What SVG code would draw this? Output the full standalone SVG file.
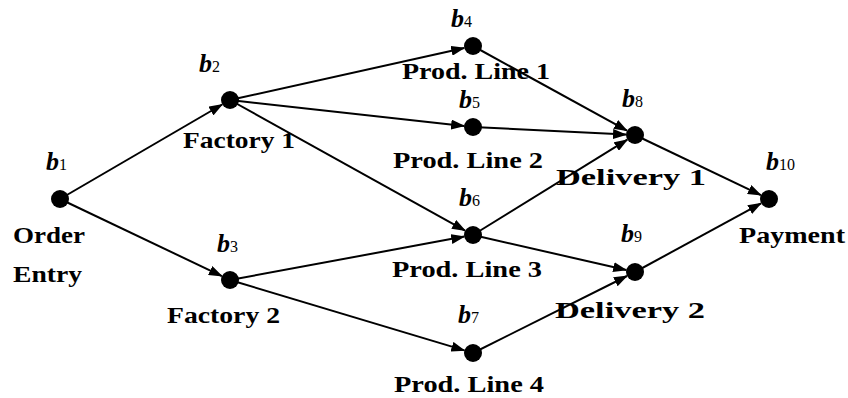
<svg xmlns="http://www.w3.org/2000/svg" width="848" height="398" viewBox="0 0 848 398">
<style>
.node circle{fill:#000}
.lbl{font-family:'Liberation Serif','Times New Roman',Times,serif;font-weight:700;font-size:24px;fill:#000}
.b{font-family:'Liberation Serif','Times New Roman',Times,serif;font-style:italic;font-weight:700;font-size:26px;fill:#000}
.b tspan{font-style:normal;font-weight:400;font-size:16px}
#edges line{stroke:#000;stroke-width:2;marker-end:url(#arr)}
</style>
<defs>
<marker id="arr" markerUnits="userSpaceOnUse" markerWidth="14" markerHeight="10" viewBox="0 0 14 10" refX="13" refY="5" orient="auto">
<path d="M0,0 L14,5 L0,10 z" fill="#000"/>
</marker>
</defs>
<rect width="848" height="398" fill="#fff"/>
<g id="edges">
<line x1="60" y1="199" x2="222.2" y2="104.5"/>
<line x1="60" y1="199" x2="221.9" y2="276.1"/>
<line x1="230" y1="100" x2="464.2" y2="48"/>
<line x1="230" y1="100" x2="464.1" y2="126"/>
<line x1="230" y1="100" x2="465.1" y2="230.6"/>
<line x1="230" y1="280" x2="464.2" y2="236.6"/>
<line x1="230" y1="280" x2="464.4" y2="350.4"/>
<line x1="473" y1="46" x2="627.1" y2="130.7"/>
<line x1="473" y1="127" x2="626" y2="134.6"/>
<line x1="473" y1="235" x2="627.3" y2="139.7"/>
<line x1="473" y1="235" x2="626.2" y2="270"/>
<line x1="473" y1="353" x2="627" y2="276"/>
<line x1="635" y1="135" x2="760.9" y2="195.1"/>
<line x1="635" y1="272" x2="761.1" y2="203.3"/>
</g>
<g id="b1" class="node"><circle cx="60" cy="199" r="9"/><text class="b" x="46" y="170">b<tspan>1</tspan></text><text class="lbl" x="13" y="243" textLength="72" lengthAdjust="spacingAndGlyphs">Order</text><text class="lbl" x="13" y="282" textLength="69" lengthAdjust="spacingAndGlyphs">Entry</text></g>
<g id="b2" class="node"><circle cx="230" cy="100" r="9"/><text class="b" x="199" y="72">b<tspan>2</tspan></text><text class="lbl" x="183" y="148" textLength="112" lengthAdjust="spacingAndGlyphs">Factory 1</text></g>
<g id="b3" class="node"><circle cx="230" cy="280" r="9"/><text class="b" x="217" y="252">b<tspan>3</tspan></text><text class="lbl" x="167" y="323" textLength="113" lengthAdjust="spacingAndGlyphs">Factory 2</text></g>
<g id="b4" class="node"><circle cx="473" cy="46" r="9"/><text class="b" x="451" y="27">b<tspan>4</tspan></text><text class="lbl" x="402" y="79" textLength="148" lengthAdjust="spacingAndGlyphs">Prod. Line 1</text></g>
<g id="b5" class="node"><circle cx="473" cy="127" r="9"/><text class="b" x="459" y="108">b<tspan>5</tspan></text><text class="lbl" x="393" y="168" textLength="150" lengthAdjust="spacingAndGlyphs">Prod. Line 2</text></g>
<g id="b6" class="node"><circle cx="473" cy="235" r="9"/><text class="b" x="459" y="206">b<tspan>6</tspan></text><text class="lbl" x="392" y="277" textLength="150" lengthAdjust="spacingAndGlyphs">Prod. Line 3</text></g>
<g id="b7" class="node"><circle cx="473" cy="353" r="9"/><text class="b" x="458" y="323">b<tspan>7</tspan></text><text class="lbl" x="394" y="392" textLength="150" lengthAdjust="spacingAndGlyphs">Prod. Line 4</text></g>
<g id="b8" class="node"><circle cx="635" cy="135" r="9"/><text class="b" x="622" y="107">b<tspan>8</tspan></text><text class="lbl" x="556" y="185" textLength="150" lengthAdjust="spacingAndGlyphs">Delivery 1</text></g>
<g id="b9" class="node"><circle cx="635" cy="272" r="9"/><text class="b" x="621" y="242">b<tspan>9</tspan></text><text class="lbl" x="555" y="318" textLength="150" lengthAdjust="spacingAndGlyphs">Delivery 2</text></g>
<g id="b10" class="node"><circle cx="769" cy="199" r="9"/><text class="b" x="766" y="170">b<tspan>10</tspan></text><text class="lbl" x="739" y="243" textLength="106" lengthAdjust="spacingAndGlyphs">Payment</text></g>
</svg>
